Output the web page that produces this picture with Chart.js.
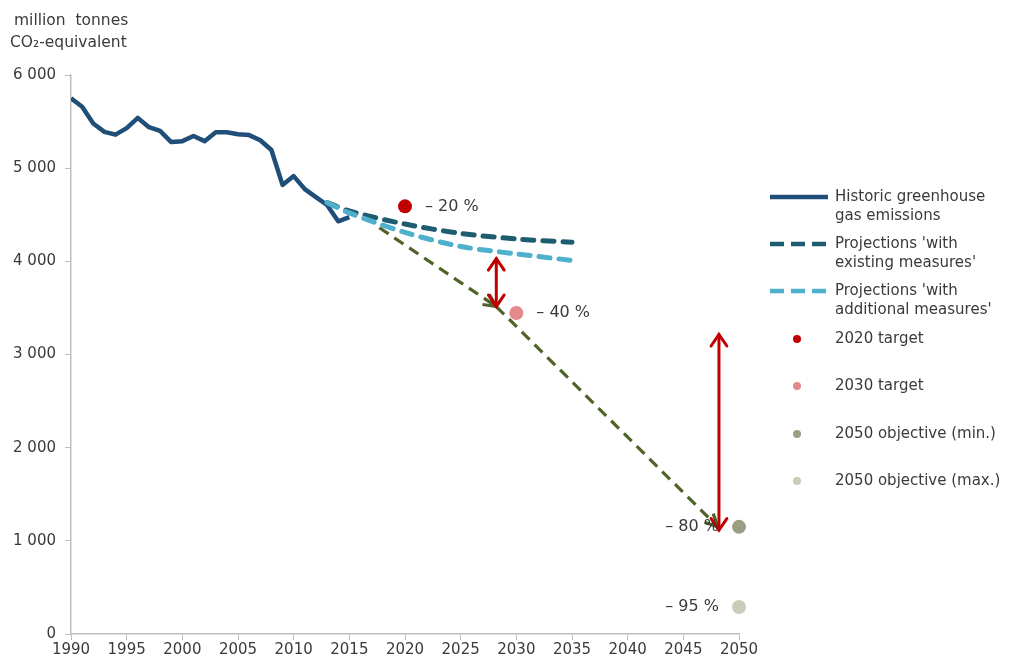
<!DOCTYPE html>
<html>
<head>
<meta charset="utf-8">
<script src="https://cdn.jsdelivr.net/npm/chart.js@4"></script>
<style>
html,body{margin:0;padding:0;background:#fff;}
#wrap{position:relative;width:1013px;height:664px;}
</style>
</head>
<body>
<div id="wrap"><canvas id="c" width="1013" height="664"></canvas></div>
<script>
// ---------- data ----------
const histYears = [1990,1991,1992,1993,1994,1995,1996,1997,1998,1999,2000,2001,2002,2003,2004,2005,2006,2007,2008,2009,2010,2011,2012,2013,2014,2015];
const histValues = [5750,5660,5480,5390,5360,5430,5540,5440,5400,5280,5290,5345,5290,5385,5385,5365,5355,5300,5195,4820,4915,4775,4690,4605,4430,4475];
const projYears = [2013,2015,2020,2025,2030,2035];
const wemValues = [4630,4540,4400,4300,4240,4205];
const wamValues = [4630,4520,4310,4160,4080,4010];
const target2020 = [2020,4590];
const target2030 = [2030,3445];
const objective2050Min = [2050,1150];
const objective2050Max = [2050,290];
const targetLabels = ['– 20 %','– 40 %','– 80 %','– 95 %'];
const pathArrows = [[2017.7,4360,2028.2,3515],[2028.2,3515,2048.1,1150]];
const gapArrows = [[2028.2,4030,2028.2,3515],[2048.2,3215,2048.2,1115]];
const xTicks = [1990,1995,2000,2005,2010,2015,2020,2025,2030,2035,2040,2045,2050];
const yTicks = [0,1000,2000,3000,4000,5000,6000];
const legendLabels = [
  ['Historic greenhouse','gas emissions'],
  ["Projections 'with","existing measures'"],
  ["Projections 'with","additional measures'"],
  ['2020 target'],['2030 target'],['2050 objective (min.)'],['2050 objective (max.)']
];
const yTitle = ['million  tonnes','CO₂-equivalent'];

// ---------- styles ----------
const C_HIST='#1f4e79', C_WEM='#1e5c70', C_WAM='#4fb0cc', C_T20='#c00000', C_T30='#e58a8c', C_MIN='#9b9e85', C_MAX='#c9ccb8', C_GREEN='#4f6228', C_RED='#c00000', C_TXT='#3a3a3a', C_AX='#bdbdbd';
const FONT='"DejaVu Sans", Verdana, sans-serif';

function pts(xs, ys){ return xs.map((x,i)=>({x:x,y:ys[i]})); }

function arrowHead(ctx, x1,y1,x2,y2,len,ang){
  const a=Math.atan2(y2-y1,x2-x1);
  ctx.beginPath();
  ctx.moveTo(x2-len*Math.cos(a-ang), y2-len*Math.sin(a-ang));
  ctx.lineTo(x2,y2);
  ctx.lineTo(x2-len*Math.cos(a+ang), y2-len*Math.sin(a+ang));
  ctx.stroke();
}

const annotPlugin = {
  id:'annot',
  beforeDatasetsDraw(chart){
    const {ctx, scales:{x,y}} = chart;
    ctx.save();
    ctx.strokeStyle=C_GREEN; ctx.lineWidth=3.2; ctx.lineCap='butt';
    pathArrows.forEach(a=>{
      const x1=x.getPixelForValue(a[0]), y1=y.getPixelForValue(a[1]);
      const x2=x.getPixelForValue(a[2]), y2=y.getPixelForValue(a[3]);
      ctx.setLineDash([11,7]);
      ctx.beginPath(); ctx.moveTo(x1,y1); ctx.lineTo(x2,y2); ctx.stroke();
      ctx.setLineDash([]);
      arrowHead(ctx,x1,y1,x2,y2,14,0.45);
    });
    ctx.restore();
  },
  afterDatasetsDraw(chart){
    const {ctx, scales:{x,y}} = chart;
    ctx.save();
    ctx.strokeStyle=C_RED; ctx.lineWidth=3; ctx.lineCap='round'; ctx.lineJoin='miter';
    gapArrows.forEach(a=>{
      const x1=x.getPixelForValue(a[0]), y1=y.getPixelForValue(a[1]);
      const x2=x.getPixelForValue(a[2]), y2=y.getPixelForValue(a[3]);
      ctx.beginPath(); ctx.moveTo(x1,y1); ctx.lineTo(x2,y2); ctx.stroke();
      arrowHead(ctx,x1,y1,x2,y2,14,0.6);
      arrowHead(ctx,x2,y2,x1,y1,14,0.6);
    });
    // percent labels
    ctx.fillStyle=C_TXT; ctx.font='16px '+FONT; ctx.textBaseline='middle';
    const tp=[target2020,target2030,objective2050Min,objective2050Max];
    tp.forEach((p,i)=>{
      const px=x.getPixelForValue(p[0]), py=y.getPixelForValue(p[1]);
      if(i<2){ ctx.textAlign='left'; ctx.fillText(targetLabels[i], px+20, py); }
      else { ctx.textAlign='right'; ctx.fillText(targetLabels[i], px-20, py); }
    });
    ctx.restore();
  },
  afterDraw(chart){
    const {ctx} = chart;
    ctx.save();
    // y title
    ctx.fillStyle=C_TXT; ctx.font='15.5px '+FONT; ctx.textBaseline='middle'; ctx.textAlign='left';
    ctx.fillText(yTitle[0], 14, 21);
    ctx.fillText(yTitle[1], 10, 43);
    // legend
    const lx=770, tx=835;
    const rows=[197,244,291,339,386,434,481];
    ctx.font='15px '+FONT;
    legendLabels.forEach((lab,i)=>{
      const ry=rows[i];
      lab.forEach((t,j)=>{ ctx.fillStyle=C_TXT; ctx.fillText(t, tx, ry+j*19); });
      if(i<3){
        ctx.strokeStyle=[C_HIST,C_WEM,C_WAM][i]; ctx.lineWidth=4.5;
        ctx.setLineDash(i===0?[]:[14,7]);
        ctx.beginPath(); ctx.moveTo(lx,ry); ctx.lineTo(lx+58,ry); ctx.stroke();
        ctx.setLineDash([]);
      } else {
        ctx.fillStyle=[C_T20,C_T30,C_MIN,C_MAX][i-3];
        ctx.beginPath(); ctx.arc(797,ry,4,0,Math.PI*2); ctx.fill();
      }
    });
    ctx.restore();
  }
};

new Chart(document.getElementById('c'), {
  type:'line',
  data:{
    datasets:[
      {label:'Historic', data:pts(histYears,histValues), borderColor:C_HIST, borderWidth:4.5, pointRadius:0, tension:0, borderJoinStyle:'round', order:3},
      {label:'WEM', data:pts(projYears,wemValues), borderColor:C_WEM, borderWidth:5, borderDash:[11,9], borderCapStyle:'round', pointRadius:0, tension:0.3, order:2},
      {label:'WAM', data:pts(projYears,wamValues), borderColor:C_WAM, borderWidth:5, borderDash:[11,9], borderCapStyle:'round', pointRadius:0, tension:0.3, order:1},
      {label:'2020 target', data:[{x:target2020[0],y:target2020[1]}], showLine:false, pointRadius:7, pointBackgroundColor:C_T20, pointBorderWidth:0, clip:false, order:0},
      {label:'2030 target', data:[{x:target2030[0],y:target2030[1]}], showLine:false, pointRadius:7, pointBackgroundColor:C_T30, pointBorderWidth:0, clip:false, order:0},
      {label:'2050 min', data:[{x:objective2050Min[0],y:objective2050Min[1]}], showLine:false, pointRadius:7, pointBackgroundColor:C_MIN, pointBorderWidth:0, clip:false, order:0},
      {label:'2050 max', data:[{x:objective2050Max[0],y:objective2050Max[1]}], showLine:false, pointRadius:7, pointBackgroundColor:C_MAX, pointBorderWidth:0, clip:false, order:0}
    ]
  },
  options:{
    responsive:false, animation:false, devicePixelRatio:1,
    layout:{padding:{left:0,top:75,right:274,bottom:0}},
    plugins:{legend:{display:false}, tooltip:{enabled:false}},
    scales:{
      x:{type:'linear', min:1990, max:2050,
        afterBuildTicks(s){ s.ticks = xTicks.map(v=>({value:v})); },
        afterFit(s){ s.height=30; },
        grid:{display:true, drawOnChartArea:false, drawTicks:true, tickLength:6, color:C_AX},
        border:{color:C_AX, width:1.5},
        ticks:{color:C_TXT, font:{family:FONT,size:15}, padding:1, maxRotation:0, callback:v=>String(v)}},
      y:{type:'linear', min:0, max:6000,
        afterBuildTicks(s){ s.ticks = yTicks.map(v=>({value:v})); },
        afterFit(s){ s.width=71; },
        grid:{display:true, drawOnChartArea:false, drawTicks:true, tickLength:6, color:C_AX},
        border:{color:C_AX, width:1.5},
        ticks:{color:C_TXT, font:{family:FONT,size:15}, padding:9, callback:v=>String(v).replace(/\B(?=(\d{3})+(?!\d))/g,' ')}}
    }
  },
  plugins:[annotPlugin]
});
</script>
</body>
</html>
